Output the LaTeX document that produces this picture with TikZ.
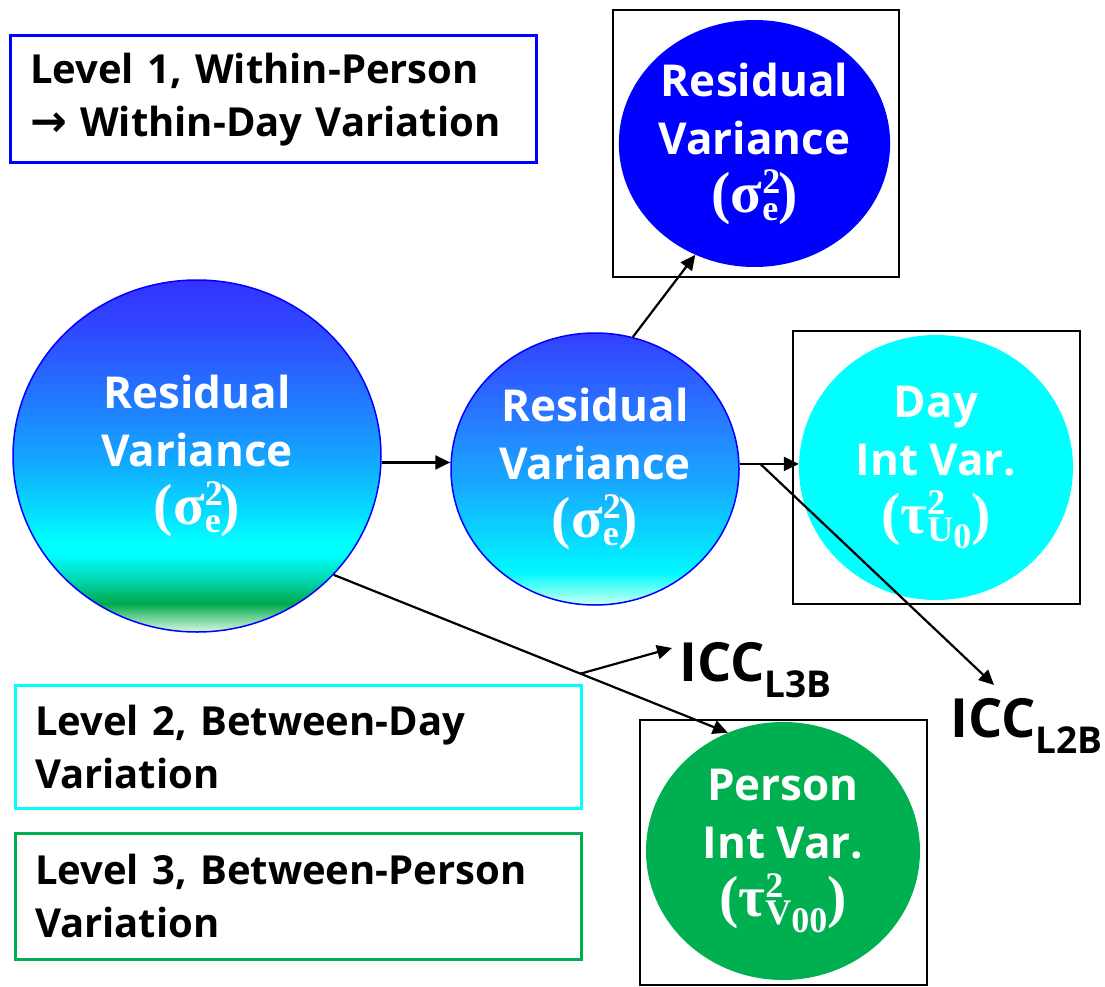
\documentclass[tikz,border=0pt]{standalone}
\usepackage{fontspec}
\setmainfont{Open Sans}
\newfontfamily\mf{Liberation Serif}
\newfontfamily\arrowfont{DejaVu Sans}
\usetikzlibrary{shapes.geometric,arrows.meta,calc}
\definecolor{lvblue}{HTML}{0000FF}
\definecolor{lvcyan}{HTML}{00FFFF}
\definecolor{lvgreen}{HTML}{00B050}
\definecolor{bA}{HTML}{3333FF}
\definecolor{bB}{HTML}{2F48FF}
\definecolor{bC}{HTML}{2474FF}
\definecolor{bD}{HTML}{14A4FF}
\definecolor{bE}{HTML}{05DDFF}
\definecolor{bF}{HTML}{00FFFF}
\definecolor{bG}{HTML}{00D8B0}
\definecolor{bH}{HTML}{00A84C}
\definecolor{bI}{HTML}{70D49A}
\definecolor{bJ}{HTML}{DAF6E2}
\definecolor{mA}{HTML}{3340FF}
\definecolor{mB}{HTML}{2878FF}
\definecolor{mC}{HTML}{18A8FF}
\definecolor{mD}{HTML}{08D8FF}
\definecolor{mE}{HTML}{00F8FF}
\definecolor{mF}{HTML}{50FFF8}
\definecolor{mG}{HTML}{D0FFF0}
\pgfdeclareverticalshading{bigshade}{100bp}{color(0bp)=(bJ); color(25bp)=(bJ); color(27bp)=(bI); color(29bp)=(bH); color(32.5bp)=(bG); color(36bp)=(bF); color(38bp)=(bF); color(42bp)=(bE); color(50bp)=(bD); color(59bp)=(bC); color(68bp)=(bB); color(75bp)=(bA); color(100bp)=(bA)}
\pgfdeclareverticalshading{midshade}{100bp}{color(0bp)=(mG); color(25bp)=(mG); color(28.5bp)=(mF); color(31bp)=(mE); color(37.5bp)=(mD); color(47.5bp)=(mC); color(60bp)=(mB); color(75bp)=(mA); color(100bp)=(mA)}
\newcommand{\sps}[2]{\rlap{\raisebox{19pt}{\fontsize{36}{36}\selectfont #1}}\raisebox{-8pt}{\fontsize{36}{36}\selectfont #2}}
\newcommand{\mathline}[1]{{\mf\bfseries\fontsize{58}{58}\selectfont #1}}
\newcommand{\nohyph}{\hyphenpenalty=10000 \exhyphenpenalty=10000 }
\begin{document}
\begin{tikzpicture}[x=1pt,y=-1pt,
  circ/.style={ellipse, inner sep=0pt, text=white, align=center, font=\fontsize{44}{58}\selectfont\bfseries},
  framebox/.style={draw=black, line width=2.2pt, inner sep=0pt},
  lvlbox/.style={line width=3pt, inner xsep=20pt, align=left, font=\fontsize{40}{53}\selectfont\bfseries},
  icc/.style={anchor=base west, inner sep=0pt, font=\fontsize{54}{54}\selectfont\bfseries},
  arr/.style={-{Triangle[length=15pt,width=14pt]}, line width=2.2pt}]
\useasboundingbox (0,0) rectangle (1105,987);

% level boxes
\node[lvlbox, draw=lvblue, text width=486pt, minimum height=127pt] (lv1) at (273,99.5)
  {\nohyph Level 1, Within-Person\\{\arrowfont\bfseries\fontsize{44}{53}\selectfont →} Within-Day Variation};
\node[lvlbox, draw=lvcyan, text width=526pt, minimum height=123pt] (lv2) at (298,746.5)
  {\nohyph Level 2, Between-Day\\Variation};
\node[lvlbox, draw=lvgreen, text width=526pt, minimum height=126pt] (lv3) at (298,896)
  {\nohyph Level 3, Between-Person\\Variation};

% frames
\node[framebox, minimum width=286pt, minimum height=267pt] (topbox) at (756,143.5) {};
\node[framebox, minimum width=287pt, minimum height=273pt] (daybox) at (936.5,467.5) {};
\node[framebox, minimum width=287pt, minimum height=265pt] (persbox) at (783.5,852.5) {};

% circles
\node[circ, draw=lvblue, line width=1.5pt, shading=bigshade, minimum width=368pt, minimum height=352pt] (big) at (197,456)
  {Residual\\Variance\\\mathline{(σ\sps{2}{e})}};
\node[circ, draw=lvblue, line width=1.5pt, shading=midshade, minimum width=288pt, minimum height=272pt] (mid) at (595,469)
  {Residual\\Variance\\\mathline{(σ\sps{2}{e})}};
\node[circ, fill=lvblue, minimum width=271pt, minimum height=247pt] (topc) at (754.5,143.5)
  {Residual\\Variance\\\mathline{(σ\sps{2}{e})}};
\node[circ, fill=lvcyan, minimum width=274pt, minimum height=265pt] (day) at (936,467.5)
  {Day\\Int Var.\\\mathline{(τ\sps{2}{U\raisebox{-7pt}{0}})}};
\node[circ, fill=lvgreen, minimum width=274pt, minimum height=258pt] (pers) at (783,851)
  {Person\\Int Var.\\\mathline{(τ\sps{2}{V\raisebox{-8pt}{00}})}};

% ICC labels
\node[icc] (icc3) at (679,681) {ICC\raisebox{-16pt}{\fontsize{37}{37}\selectfont L3B}};
\node[icc] (icc2) at (950,737) {ICC\raisebox{-16pt}{\fontsize{37}{37}\selectfont L2B}};

% connectors
\draw[arr] (big.-2) -- (big.-2 -| mid.west);
\draw[arr] (mid.74) -- (topc.-118);
\draw[arr] (mid.2) -- (mid.2 -| day.west);
\coordinate (s2) at ($(mid.2)!0.35!(mid.2 -| day.west)$);
\draw[arr] (s2) -- ($(icc2.base west)+(44,-52)$);
\draw[arr] (big.-41.6) -- (pers.115);
\coordinate (s3) at ($(big.-41.6)!0.626!(pers.115)$);
\draw[arr] (s3) -- ($(icc3.base west)+(-7,-33)$);
\end{tikzpicture}
\end{document}
